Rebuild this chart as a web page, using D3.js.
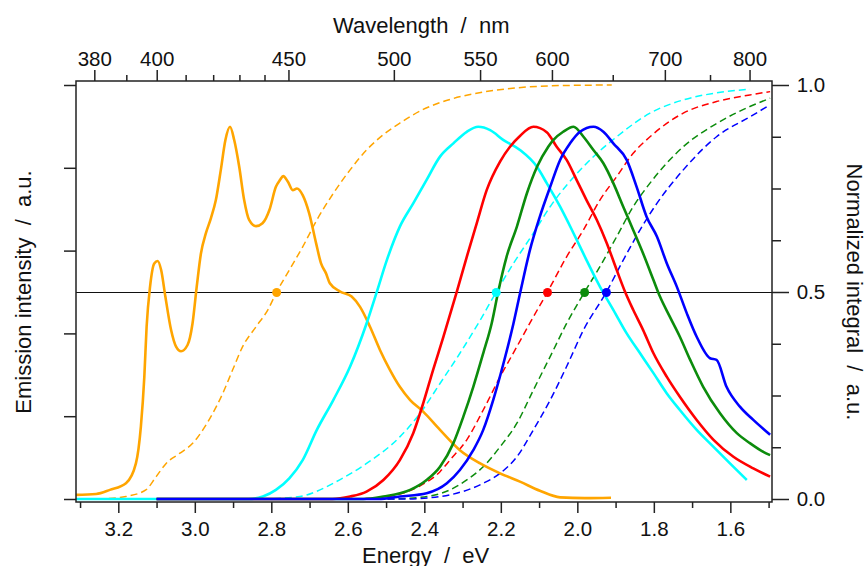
<!DOCTYPE html>
<html>
<head>
<meta charset="utf-8">
<script src="https://cdn.jsdelivr.net/npm/d3@7"></script>
<style>
  body { margin: 0; background: #fff; }
  svg text { font-family: "Liberation Sans", Arial, Helvetica, sans-serif; fill: #111; }
</style>
</head>
<body>
<svg id="chart" width="867" height="566"></svg>
<script>
// Emission spectra: [energy (eV), intensity], normalised so every peak sits at 0.9
const orangeEmission = [[3.311,0.010],[3.258,0.012],[3.222,0.022],[3.180,0.038],[3.154,0.086],[3.141,0.175],[3.132,0.295],[3.126,0.416],[3.117,0.513],[3.106,0.569],[3.097,0.575],[3.088,0.553],[3.077,0.489],[3.062,0.408],[3.049,0.368],[3.036,0.357],[3.019,0.372],[3.006,0.424],[2.995,0.513],[2.984,0.593],[2.971,0.642],[2.958,0.678],[2.945,0.722],[2.932,0.795],[2.920,0.867],[2.908,0.899],[2.897,0.867],[2.884,0.803],[2.871,0.722],[2.858,0.674],[2.840,0.659],[2.823,0.666],[2.805,0.698],[2.788,0.754],[2.777,0.771],[2.769,0.780],[2.757,0.767],[2.744,0.746],[2.733,0.750],[2.718,0.734],[2.701,0.690],[2.683,0.618],[2.670,0.569],[2.657,0.545],[2.647,0.521],[2.620,0.501],[2.590,0.489],[2.568,0.464],[2.542,0.416],[2.516,0.360],[2.490,0.312],[2.464,0.271],[2.437,0.239],[2.403,0.211],[2.359,0.167],[2.307,0.118],[2.254,0.086],[2.202,0.062],[2.150,0.042],[2.098,0.020],[2.045,0.004],[1.980,0.002],[1.912,0.003]];
const cyanEmission = [[3.311,0.000],[2.860,0.000],[2.822,0.006],[2.788,0.022],[2.753,0.050],[2.718,0.094],[2.681,0.167],[2.638,0.239],[2.594,0.320],[2.551,0.424],[2.524,0.501],[2.498,0.577],[2.464,0.658],[2.429,0.714],[2.394,0.771],[2.359,0.827],[2.324,0.859],[2.289,0.887],[2.259,0.899],[2.228,0.891],[2.193,0.867],[2.150,0.843],[2.106,0.803],[2.080,0.763],[2.045,0.706],[2.010,0.642],[1.976,0.577],[1.941,0.513],[1.906,0.457],[1.871,0.400],[1.836,0.352],[1.801,0.304],[1.766,0.255],[1.732,0.215],[1.688,0.167],[1.644,0.126],[1.601,0.086],[1.557,0.046]];
const redEmission = [[3.100,0.000],[2.640,0.000],[2.594,0.006],[2.551,0.018],[2.507,0.046],[2.464,0.094],[2.429,0.159],[2.403,0.231],[2.377,0.312],[2.350,0.392],[2.315,0.501],[2.289,0.585],[2.263,0.666],[2.237,0.746],[2.202,0.815],[2.176,0.851],[2.150,0.877],[2.115,0.899],[2.080,0.886],[2.054,0.851],[2.028,0.819],[2.002,0.771],[1.976,0.722],[1.949,0.674],[1.923,0.618],[1.897,0.553],[1.875,0.500],[1.854,0.457],[1.828,0.408],[1.801,0.352],[1.766,0.295],[1.732,0.247],[1.688,0.191],[1.644,0.143],[1.592,0.102],[1.540,0.074],[1.496,0.054]];
const greenEmission = [[3.100,0.000],[2.560,0.000],[2.507,0.006],[2.437,0.022],[2.394,0.046],[2.359,0.078],[2.324,0.135],[2.298,0.199],[2.272,0.271],[2.246,0.352],[2.224,0.424],[2.207,0.500],[2.185,0.585],[2.158,0.658],[2.132,0.738],[2.105,0.803],[2.076,0.851],[2.063,0.867],[2.037,0.887],[2.010,0.899],[1.984,0.875],[1.958,0.843],[1.932,0.811],[1.906,0.763],[1.880,0.706],[1.854,0.650],[1.828,0.593],[1.801,0.529],[1.784,0.489],[1.758,0.440],[1.732,0.392],[1.705,0.336],[1.671,0.271],[1.627,0.207],[1.583,0.159],[1.549,0.135],[1.514,0.114],[1.496,0.106]];
const blueEmission = [[3.100,0.000],[2.520,0.000],[2.464,0.006],[2.394,0.014],[2.341,0.038],[2.307,0.070],[2.272,0.118],[2.246,0.167],[2.220,0.239],[2.193,0.328],[2.167,0.424],[2.149,0.500],[2.124,0.601],[2.098,0.682],[2.071,0.754],[2.045,0.819],[2.019,0.859],[1.993,0.887],[1.958,0.899],[1.932,0.887],[1.906,0.859],[1.871,0.819],[1.845,0.754],[1.819,0.682],[1.792,0.634],[1.766,0.569],[1.740,0.513],[1.714,0.449],[1.688,0.392],[1.653,0.340],[1.636,0.336],[1.610,0.271],[1.575,0.223],[1.540,0.191],[1.496,0.155]];

// Normalised running integrals of the same spectra
const orangeIntegral = [[3.311,0.000],[3.230,0.001],[3.180,0.006],[3.128,0.022],[3.101,0.054],[3.075,0.086],[3.040,0.110],[3.005,0.135],[2.979,0.167],[2.953,0.207],[2.927,0.255],[2.901,0.312],[2.875,0.368],[2.840,0.416],[2.809,0.457],[2.786,0.500],[2.753,0.553],[2.718,0.609],[2.681,0.674],[2.638,0.738],[2.594,0.795],[2.551,0.843],[2.507,0.880],[2.464,0.908],[2.403,0.941],[2.333,0.965],[2.246,0.983],[2.159,0.993],[2.071,0.998],[1.910,1.000]];
const cyanIntegral = [[3.311,0.000],[2.830,0.000],[2.725,0.006],[2.683,0.018],[2.638,0.038],[2.551,0.086],[2.464,0.150],[2.411,0.207],[2.359,0.279],[2.307,0.352],[2.254,0.432],[2.212,0.500],[2.167,0.569],[2.115,0.642],[2.071,0.706],[1.984,0.803],[1.897,0.875],[1.810,0.932],[1.723,0.964],[1.636,0.981],[1.549,0.990]];
const redIntegral = [[3.100,0.000],[2.600,0.000],[2.516,0.003],[2.464,0.012],[2.411,0.032],[2.359,0.066],[2.333,0.094],[2.289,0.143],[2.246,0.215],[2.202,0.295],[2.158,0.368],[2.115,0.440],[2.078,0.500],[2.028,0.585],[1.984,0.650],[1.941,0.722],[1.897,0.779],[1.854,0.835],[1.810,0.875],[1.723,0.932],[1.636,0.960],[1.549,0.976],[1.496,0.984]];
const greenIntegral = [[3.100,0.000],[2.500,0.000],[2.411,0.004],[2.333,0.022],[2.289,0.046],[2.246,0.078],[2.202,0.126],[2.158,0.183],[2.115,0.263],[2.071,0.344],[2.028,0.424],[1.981,0.500],[1.941,0.561],[1.897,0.634],[1.854,0.706],[1.810,0.763],[1.723,0.851],[1.636,0.907],[1.549,0.948],[1.496,0.968]];
const blueIntegral = [[3.100,0.000],[2.460,0.000],[2.400,0.002],[2.333,0.010],[2.246,0.038],[2.202,0.062],[2.158,0.102],[2.115,0.167],[2.071,0.239],[2.028,0.320],[1.984,0.408],[1.924,0.500],[1.880,0.577],[1.836,0.650],[1.792,0.714],[1.723,0.795],[1.636,0.875],[1.549,0.923],[1.496,0.952]];

// Energy where each integral reaches one half
const halfEnergy = { orange: 2.786, cyan: 2.212, red: 2.078, green: 1.981, blue: 1.924 };

// Axis ticks
const energyMajorTicks = [3.2, 3.0, 2.8, 2.6, 2.4, 2.2, 2.0, 1.8, 1.6];
const energyMinorTicks = [3.3, 3.1, 2.9, 2.7, 2.5, 2.3, 2.1, 1.9, 1.7, 1.5];
const wavelengthMajorTicks = [380, 400, 450, 500, 550, 600, 700, 800];
const wavelengthMinorTicks = [390, 410, 420, 430, 440, 650, 750];
const integralMajorTicks = [0, 0.5, 1.0];
const integralMinorTicks = [0.125, 0.25, 0.375, 0.625, 0.75, 0.875];
const intensityTicks = [0, 0.2, 0.4, 0.6, 0.8, 1.0];

const colors = { orange: "#ffa500", cyan: "#00ffff", red: "#ff0000", green: "#0c8c0c", blue: "#0000ff" };
const HC = 1239.84; // eV·nm

const svg = d3.select("#chart");
const plotLeft = 76, plotRight = 772, plotTop = 81, plotBottom = 502;

const x = d3.scaleLinear().domain([3.3106, 1.4911]).range([plotLeft, plotRight]);
const y = d3.scaleLinear().domain([0, 1]).range([499, 85]);

const axisColor = "#222";

// reference line at half of the integral
svg.append("line")
  .attr("x1", plotLeft).attr("x2", plotRight)
  .attr("y1", y(0.5) + 0.5).attr("y2", y(0.5) + 0.5)
  .attr("stroke", "#111").attr("stroke-width", 1);

const line = d3.line()
  .x(d => x(d[0])).y(d => y(d[1]))
  .curve(d3.curveMonotoneX);

const integrals = [
  ["orange", orangeIntegral], ["cyan", cyanIntegral], ["red", redIntegral],
  ["green", greenIntegral], ["blue", blueIntegral]
];
const emissions = [
  ["orange", orangeEmission], ["cyan", cyanEmission], ["red", redEmission],
  ["green", greenEmission], ["blue", blueEmission]
];

svg.append("g").selectAll("path").data(integrals).join("path")
  .attr("d", d => line(d[1]))
  .attr("fill", "none")
  .attr("stroke", d => colors[d[0]])
  .attr("stroke-width", 1.5)
  .attr("stroke-dasharray", "7,4");

svg.append("g").selectAll("path").data(emissions).join("path")
  .attr("d", d => line(d[1]))
  .attr("fill", "none")
  .attr("stroke", d => colors[d[0]])
  .attr("stroke-width", 2.6)
  .attr("stroke-linejoin", "round");

svg.append("g").selectAll("circle").data(Object.entries(halfEnergy)).join("circle")
  .attr("cx", d => x(d[1])).attr("cy", y(0.5) + 0.5).attr("r", 4.5)
  .attr("fill", d => colors[d[0]]);

// Axes
function styleAxis(g) {
  g.select(".domain").remove();
  g.selectAll(".tick line").attr("stroke", axisColor).attr("stroke-width", 1.5);
  g.selectAll(".tick text").attr("font-size", 20.5).attr("fill", "#111");
}

// bottom: energy
svg.append("g").attr("transform", `translate(0,${plotBottom})`)
  .call(d3.axisBottom(x).tickValues(energyMajorTicks).tickSize(11).tickPadding(8.5)
    .tickFormat(d3.format(".1f")))
  .call(styleAxis);
svg.append("g").attr("transform", `translate(0,${plotBottom})`)
  .call(d3.axisBottom(x).tickValues(energyMinorTicks).tickSize(6).tickFormat(""))
  .call(styleAxis);

// top: wavelength
svg.append("g").attr("transform", `translate(0,${plotTop})`)
  .call(d3.axisTop(x).tickValues(wavelengthMajorTicks.map(l => HC / l)).tickSize(11).tickPadding(4.3)
    .tickFormat(d => Math.round(HC / d)))
  .call(styleAxis);
svg.append("g").attr("transform", `translate(0,${plotTop})`)
  .call(d3.axisTop(x).tickValues(wavelengthMinorTicks.map(l => HC / l)).tickSize(6).tickFormat(""))
  .call(styleAxis);

// left: emission intensity
svg.append("g").attr("transform", `translate(${plotLeft},0)`)
  .call(d3.axisLeft(y).tickValues(intensityTicks).tickSize(12).tickFormat(""))
  .call(styleAxis);

// right: normalised integral
svg.append("g").attr("transform", `translate(${plotRight},0)`)
  .call(d3.axisRight(y).tickValues(integralMajorTicks).tickSize(17).tickPadding(7.7)
    .tickFormat(d3.format(".1f")))
  .call(styleAxis);
svg.append("g").attr("transform", `translate(${plotRight},0)`)
  .call(d3.axisRight(y).tickValues(integralMinorTicks).tickSize(9).tickFormat(""))
  .call(styleAxis);

// frame
svg.append("rect")
  .attr("x", plotLeft).attr("y", plotTop)
  .attr("width", plotRight - plotLeft).attr("height", plotBottom - plotTop)
  .attr("fill", "none").attr("stroke", axisColor).attr("stroke-width", 1.5);

// titles
svg.append("text").attr("x", 333).attr("y", 33)
  .attr("font-size", 22).style("white-space", "pre")
  .text("Wavelength  /  nm");
svg.append("text").attr("x", 362).attr("y", 562.5)
  .attr("font-size", 22).style("white-space", "pre")
  .text("Energy  /  eV");
svg.append("text")
  .attr("transform", "translate(31,292) rotate(-90)")
  .attr("text-anchor", "middle").attr("font-size", 22).style("white-space", "pre")
  .text("Emission intensity  /  a.u.");
svg.append("text")
  .attr("transform", "translate(847,292) rotate(90)")
  .attr("text-anchor", "middle").attr("font-size", 22).style("white-space", "pre")
  .text("Normalized integral  /  a.u.");
</script>
</body>
</html>
